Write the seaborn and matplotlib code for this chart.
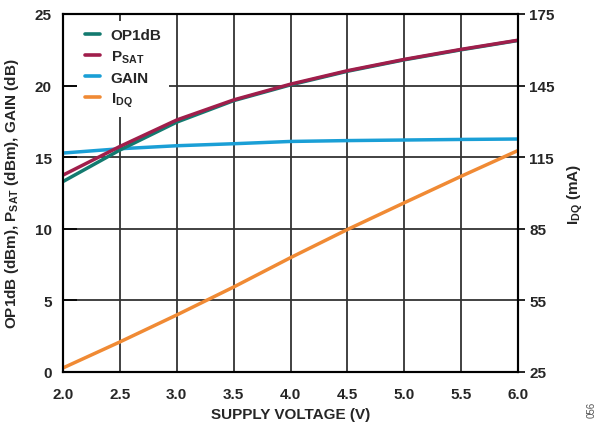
import matplotlib
matplotlib.use("Agg")
import matplotlib.pyplot as plt
import seaborn as sns
import pandas as pd
from matplotlib.lines import Line2D

voltage = [2.0, 2.5, 3.0, 3.5, 4.0, 4.5, 5.0, 5.5, 6.0]
op1db = [13.3, 15.5, 17.45, 18.95, 20.05, 21.0, 21.8, 22.5, 23.15]
psat = [13.75, 15.75, 17.6, 19.0, 20.1, 21.04, 21.83, 22.53, 23.17]
gain = [15.29, 15.59, 15.8, 15.94, 16.1, 16.16, 16.2, 16.24, 16.27]
idq = [26.7, 37.6, 48.9, 60.6, 72.9, 84.7, 95.9, 107.0, 117.8]

colors = {"OP1dB": "#137A6F", "PSAT": "#A01E4B", "GAIN": "#1A9FD6"}
idq_color = "#F08A34"

xticks = [2.0, 2.5, 3.0, 3.5, 4.0, 4.5, 5.0, 5.5, 6.0]
yticks = [0, 5, 10, 15, 20, 25]
y2ticks = [25, 55, 85, 115, 145, 175]

sns.set_style("white")
plt.rcParams["font.family"] = ["Liberation Sans", "DejaVu Sans"]
plt.rcParams["font.weight"] = "bold"
plt.rcParams["mathtext.fontset"] = "custom"
plt.rcParams["mathtext.rm"] = "Liberation Sans:bold"
plt.rcParams["mathtext.bf"] = "Liberation Sans:bold"
plt.rcParams["mathtext.it"] = "Liberation Sans:bold"

df = pd.DataFrame({
    "V": voltage * 3,
    "val": op1db + psat + gain,
    "series": ["OP1dB"] * 9 + ["PSAT"] * 9 + ["GAIN"] * 9,
})
df_i = pd.DataFrame({"V": voltage, "IDQ": idq})

fig = plt.figure(figsize=(6.03, 4.27), dpi=100)
ax = fig.add_axes([63 / 603, 1 - 373 / 427, (518 - 63) / 603, (373 - 15) / 427])

sns.lineplot(data=df, x="V", y="val", hue="series", hue_order=["GAIN", "OP1dB", "PSAT"],
             palette=colors, ax=ax, linewidth=2.5, legend=False, zorder=3)
ax2 = ax.twinx()
sns.lineplot(data=df_i, x="V", y="IDQ", color=idq_color, ax=ax2, linewidth=2.5, legend=False)

ax.set_xlim(2.0, 6.0)
ax.set_ylim(0, 25)
ax2.set_ylim(25, 175)
ax.set_xticks(xticks)
ax.set_xticklabels([f"{t:.1f}" for t in xticks], fontsize=11, fontweight="bold")
ax.set_yticks(yticks)
ax.set_yticklabels([str(t) for t in yticks], fontsize=11, fontweight="bold")
ax2.set_yticks(y2ticks)
ax2.set_yticklabels([str(t) for t in y2ticks], fontsize=11, fontweight="bold")

ax.grid(True, color="#333333", linewidth=1.3)
ax.set_axisbelow(True)
for a in (ax, ax2):
    for s in a.spines.values():
        s.set_color("black")
        s.set_linewidth(1.5)
ax.tick_params(axis="y", direction="in", length=10, width=1.2, color="black", pad=8)
ax.tick_params(axis="x", length=0, pad=11)
ax2.tick_params(axis="y", direction="out", length=5, width=1.2, color="black", pad=3)

ax.set_xlabel("SUPPLY VOLTAGE (V)", fontsize=11, fontweight="bold", labelpad=4)
ax.set_ylabel(r"OP1dB (dBm), P$_{\mathrm{SAT}}$ (dBm), GAIN (dB)", fontsize=11,
              fontweight="bold", labelpad=10)
ax2.set_ylabel(r"I$_{\mathrm{DQ}}$ (mA)", fontsize=11, fontweight="bold", labelpad=8)

handles = [
    Line2D([0], [0], color=colors["OP1dB"], lw=2.6),
    Line2D([0], [0], color=colors["PSAT"], lw=2.6),
    Line2D([0], [0], color=colors["GAIN"], lw=2.6),
    Line2D([0], [0], color=idq_color, lw=2.6),
]
labels = ["OP1dB", r"P$_{\mathrm{SAT}}$", "GAIN", r"I$_{\mathrm{DQ}}$"]
leg = ax.legend(handles, labels, loc="upper left", bbox_to_anchor=(0.014, 1.003),
                frameon=True, facecolor="white", edgecolor="none", framealpha=1,
                fancybox=False, fontsize=11, handlelength=1.0, handletextpad=0.7,
                labelspacing=0.4, borderpad=0.5)
leg.set_zorder(2)
for t in leg.get_texts():
    t.set_fontweight("bold")

fig.text(592 / 603, 1 - 410 / 427, "056", rotation=90, fontsize=7, color="#555555",
         fontweight="normal", ha="center", va="center")

fig.savefig("out.png", dpi=100)
